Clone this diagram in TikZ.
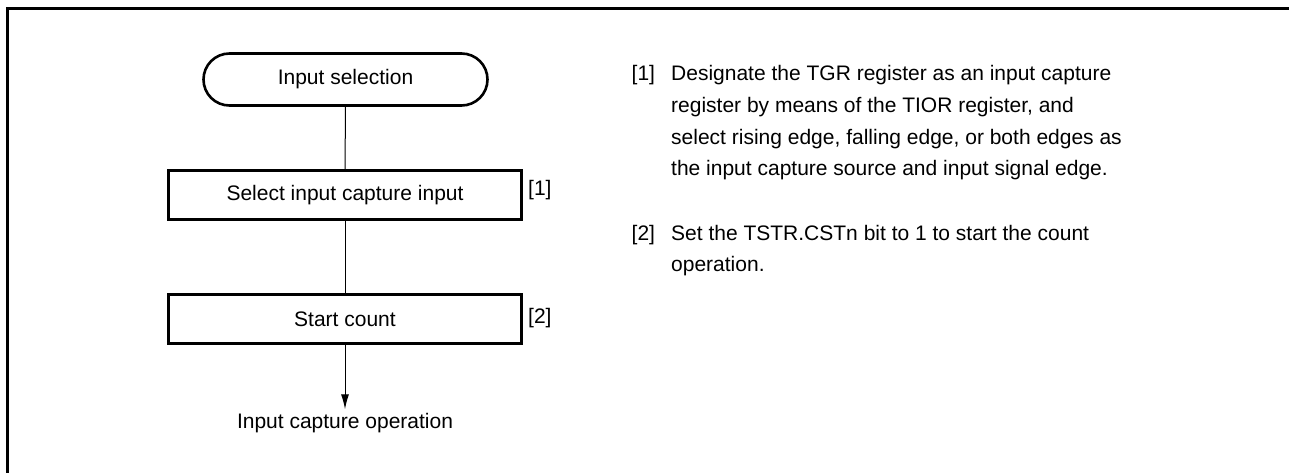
\documentclass[tikz,border=0pt]{standalone}
\usepackage{fontspec}
\setmainfont{Liberation Sans}
\usetikzlibrary{positioning}
\usetikzlibrary{arrows.meta}

\begin{document}
\begin{tikzpicture}[
    x=1pt,y=-1pt,
    font=\fontsize{21}{31.7}\selectfont,
    terminal/.style={rectangle,draw,line width=2.6pt,rounded corners=26pt,minimum width=284pt,minimum height=52pt},
    process/.style={rectangle,draw,line width=2.6pt,minimum width=353pt,minimum height=49pt},
    note/.style={align=left,inner sep=0pt,anchor=north west},
    tag/.style={inner sep=0pt,anchor=base west},
    link/.style={line width=1pt},
    arrow/.style={-{Latex[length=15pt,width=8pt]},line width=1pt}
]
\useasboundingbox (0,0) rectangle (1289,473);

% Rahmen (oben und links)
\draw[line width=3pt] (7.5,473) -- (7.5,8.5) -- (1289,8.5);

% Ablauf
\node[terminal] (sel) at (345.5,79.5) {Input selection};
\node[process] (cap) at (345,195) {Select input capture input};
\node[process] (cnt) at (345,319) {Start count};
\node[anchor=base] (op) at (345,428) {Input capture operation};

% Schrittnummern neben den Kaesten
\node[tag] (capno) at (528,195.6) {[1]};
\node[tag] (cntno) at (528,323.6) {[2]};

% Erlaeuterungen rechts
\node[tag] (no1) at (631.5,80.5) {[1]};
\node[note] (txt1) at (671,65.2) {Designate the TGR register as an input capture\\register by means of the TIOR register, and\\select rising edge, falling edge, or both edges as\\the input capture source and input signal edge.};
\node[tag] (no2) at (631.5,240) {[2]};
\node[note] (txt2) at (671,224.7) {Set the TSTR.CSTn bit to 1 to start the count\\operation.};

% Verbindungen
\draw[link] (sel) -- (cap);
\draw[link] (cap) -- (cnt);
\draw[arrow] (cnt) -- (op);

\end{tikzpicture}
\end{document}
